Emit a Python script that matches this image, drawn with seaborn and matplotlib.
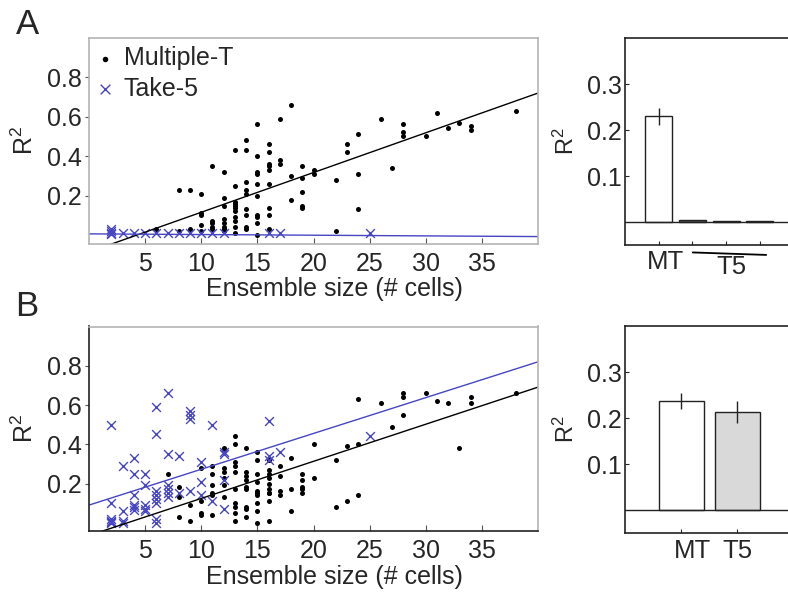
import numpy as np
import pandas as pd
import matplotlib.pyplot as plt
import seaborn as sns

# Panel A scatter values (ensemble size, R^2)
a_mt_x = [6, 8, 8, 9, 9, 10, 10, 10, 10, 10, 11, 11, 11, 11, 11,
          12, 12, 12, 12, 12, 12, 12, 12,
          13, 13, 13, 13, 13, 13, 13, 13, 13, 13, 13,
          14, 14, 14, 14, 14, 14, 14, 14, 14,
          15, 15, 15, 15, 15, 15, 15, 15, 15, 15,
          16, 16, 16, 16, 16, 16, 16, 16, 16,
          17, 17, 17, 18, 18, 18, 19, 19, 19, 19, 19, 20, 20,
          22, 22, 23, 23, 24, 24, 24, 26, 27, 28, 28, 28,
          30, 31, 32, 33, 34, 34, 38]
a_mt_y = [0.03, 0.23, 0.02, 0.23, 0.03, 0.21, 0.11, 0.10, 0.05, 0.02, 0.35, 0.07, 0.06, 0.04, 0.03,
          0.32, 0.19, 0.15, 0.08, 0.06, 0.04, 0.03, 0.02,
          0.43, 0.25, 0.17, 0.16, 0.15, 0.14, 0.12, 0.09, 0.07, 0.04, 0.01,
          0.48, 0.43, 0.27, 0.23, 0.21, 0.13, 0.10, 0.04, 0.03,
          0.56, 0.40, 0.32, 0.31, 0.26, 0.20, 0.10, 0.09, 0.06, 0.00,
          0.46, 0.42, 0.36, 0.35, 0.33, 0.26, 0.14, 0.10, 0.03,
          0.59, 0.38, 0.36, 0.66, 0.30, 0.18, 0.35, 0.29, 0.22, 0.15, 0.14, 0.33, 0.31,
          0.28, 0.02, 0.46, 0.42, 0.51, 0.31, 0.13, 0.59, 0.34, 0.56, 0.52, 0.50,
          0.50, 0.62, 0.54, 0.57, 0.55, 0.53, 0.63]
a_t5_x = [2, 2, 2, 2, 3, 4, 5, 6, 7, 8, 9, 10, 11, 12, 16, 17, 25]
a_t5_y = [0.03, 0.02, 0.01, 0.005, 0.01, 0.01, 0.01, 0.01, 0.01, 0.01, 0.01, 0.01, 0.01, 0.01, 0.01, 0.01, 0.01]

# Panel B scatter values
b_mt_x = [7, 8, 8, 8, 9, 9, 10, 10, 10, 10,
          11, 11, 11, 11, 11, 11,
          12, 12, 12, 12, 12, 12, 12,
          13, 13, 13, 13, 13, 13, 13, 13, 13, 13,
          14, 14, 14, 14, 14, 14, 14, 14, 14,
          15, 15, 15, 15, 15, 15, 15, 15, 15, 15,
          16, 16, 16, 16, 16, 16, 16, 16, 16, 16,
          17, 17, 17, 17, 18, 18, 18, 19, 19, 19, 19, 19, 20, 20,
          22, 22, 23, 23, 24, 24, 24, 26, 27, 28, 28, 28,
          30, 31, 32, 33, 34, 34, 38]
b_mt_y = [0.25, 0.03, 0.13, 0.18, 0.01, 0.09, 0.28, 0.11, 0.05, 0.04,
          0.29, 0.25, 0.19, 0.15, 0.14, 0.04,
          0.38, 0.37, 0.28, 0.26, 0.23, 0.19, 0.13,
          0.44, 0.40, 0.31, 0.29, 0.26, 0.17, 0.10, 0.08, 0.05, 0.01,
          0.38, 0.26, 0.24, 0.22, 0.18, 0.17, 0.08, 0.07, 0.03,
          0.36, 0.32, 0.25, 0.21, 0.16, 0.15, 0.14, 0.10, 0.06, 0.00,
          0.32, 0.27, 0.25, 0.23, 0.20, 0.17, 0.15, 0.15, 0.11, 0.01,
          0.29, 0.24, 0.16, 0.14, 0.33, 0.17, 0.06, 0.25, 0.22, 0.18, 0.17, 0.15, 0.40, 0.23,
          0.32, 0.08, 0.39, 0.11, 0.63, 0.40, 0.14, 0.61, 0.49, 0.66, 0.64, 0.55,
          0.66, 0.62, 0.61, 0.38, 0.64, 0.61, 0.66]
b_t5_x = [2, 2, 2, 2, 2, 2, 3, 3, 3, 3,
          4, 4, 4, 4, 4, 4, 5, 5, 5, 5, 5,
          6, 6, 6, 6, 6, 6, 6, 6, 7, 7, 7, 7, 7, 7,
          8, 8, 9, 9, 9, 9, 10, 10, 10, 11, 11,
          12, 12, 12, 12, 16, 16, 16, 17, 25]
b_t5_y = [0.50, 0.10, 0.02, 0.01, 0.005, 0.00, 0.29, 0.06, 0.01, 0.00,
          0.33, 0.25, 0.14, 0.09, 0.08, 0.065, 0.25, 0.19, 0.09, 0.07, 0.06,
          0.59, 0.45, 0.16, 0.14, 0.12, 0.10, 0.02, 0.00, 0.66, 0.35, 0.19, 0.17, 0.15, 0.13,
          0.34, 0.15, 0.57, 0.55, 0.53, 0.16, 0.31, 0.21, 0.14, 0.50, 0.11,
          0.36, 0.35, 0.22, 0.07, 0.52, 0.34, 0.32, 0.36, 0.44]

# Regression lines (intercept, slope)
a_mt_fit = (-0.085, 0.0201)
a_t5_fit = (0.0067, -0.00034)
b_mt_fit = (-0.065, 0.0189)
b_t5_fit = (0.090, 0.01825)

# Bar panels: mean R^2 and error
a_groups = ["MT", "T5 a", "T5 b", "T5 c"]
a_r2 = [0.230, 0.004, 0.002, 0.002]
a_err = [0.019, 0.0, 0.0, 0.0]
b_groups = ["MT", "T5"]
b_r2 = [0.237, 0.213]
b_err = [0.018, 0.024]

sns.set_style("ticks")
plt.rcParams["font.family"] = ["Liberation Sans", "DejaVu Sans"]
plt.rcParams["mathtext.fontset"] = "custom"
plt.rcParams["mathtext.rm"] = "Liberation Sans"
plt.rcParams["mathtext.it"] = "Liberation Sans"

blue = "#4646c4"
fig = plt.figure(figsize=(7.88, 5.93), dpi=100)

W, H = 788.0, 593.0


def box(l, t, r, b):
    return [l / W, 1 - b / H, (r - l) / W, (b - t) / H]


def scatter_panel(ax, mt_x, mt_y, t5_x, t5_y, mt_fit, t5_fit, legend, dark_lb):
    sns.scatterplot(x=mt_x, y=mt_y, ax=ax, color="black", marker="o", s=13,
                    linewidth=0, label="Multiple-T")
    sns.scatterplot(x=t5_x, y=t5_y, ax=ax, color=blue, marker="x", s=40,
                    linewidth=1.0, label="Take-5")
    xs = np.array([0, 40])
    ax.plot(xs, mt_fit[0] + mt_fit[1] * xs, color="black", lw=1)
    ax.plot(xs, t5_fit[0] + t5_fit[1] * xs, color=blue, lw=1)
    ax.set_xlim(0, 40)
    ax.set_ylim(-0.042, 1.0)
    ax.set_xticks([5, 10, 15, 20, 25, 30, 35])
    ax.set_yticks([0.2, 0.4, 0.6, 0.8])
    ax.set_yticklabels(["0.2", "0.4", "0.6", "0.8"])
    ax.tick_params(axis="x", direction="in", length=4, pad=6, labelsize=18, color="#555555")
    ax.tick_params(axis="y", direction="out", length=3, pad=2, labelsize=18, color="#555555")
    ax.set_xlabel("Ensemble size (# cells)", fontsize=18)
    ax.xaxis.set_label_coords(0.546, -0.165)
    ax.set_ylabel("R$^{2}$", fontsize=18)
    ax.yaxis.set_label_coords(-0.113, 0.5)
    for s in ax.spines.values():
        s.set_color("#b4b4b4")
        s.set_linewidth(1.2)
    if dark_lb:
        ax.spines["left"].set_color("#222222")
        ax.spines["bottom"].set_color("#222222")
    if legend:
        ax.legend(loc="upper left", frameon=False, fontsize=18, handlelength=0.6,
                  handletextpad=0.45, labelspacing=0.25, borderaxespad=0.25,
                  borderpad=0.1, markerscale=1.1)
    else:
        ax.get_legend().remove()


def bar_panel(ax, groups, r2, err, colors, nticks):
    df = pd.DataFrame({"group": groups, "r2": r2})
    sns.barplot(data=df, x="group", y="r2", hue="group", palette=colors,
                edgecolor="#222222", linewidth=1, width=0.8, legend=False, ax=ax)
    ax.errorbar(range(len(groups)), r2, yerr=err, fmt="none", ecolor="#222222",
                elinewidth=1, capsize=0)
    ax.axhline(0, color="#222222", lw=1)
    ax.set_xlim(-1, nticks)
    ax.set_ylim(-0.05, 0.4)
    ax.set_yticks([0.1, 0.2, 0.3])
    ax.set_yticklabels(["0.1", "0.2", "0.3"])
    ax.set_xticks(range(len(groups)))
    ax.set_xticklabels([""] * len(groups))
    ax.set_xlabel("")
    ax.set_ylabel("R$^{2}$", fontsize=17)
    ax.yaxis.set_label_coords(-0.275, 0.5)
    ax.tick_params(axis="both", direction="in", length=3, pad=2, labelsize=18)
    for s in ax.spines.values():
        s.set_color("#222222")
        s.set_linewidth(1.2)


# Panel A
ax1 = fig.add_axes(box(89, 37.5, 538, 243.5))
scatter_panel(ax1, a_mt_x, a_mt_y, a_t5_x, a_t5_y, a_mt_fit, a_t5_fit, True, False)
ax2 = fig.add_axes(box(625, 38.3, 793.5, 245))
bar_panel(ax2, a_groups, a_r2, a_err, ["white", "#555555", "#555555", "#555555"], 4)
tr = ax2.get_xaxis_transform()
ax2.text(0.19, -0.08, "MT", transform=tr, ha="center", va="center", fontsize=18.5)
ax2.text(2.15, -0.108, "T5", transform=tr, ha="center", va="center", fontsize=18.5)
ax2.plot([1.01, 3.19], [-0.036, -0.048], transform=tr, color="black", lw=1.3, clip_on=False)

# Panel B
ax3 = fig.add_axes(box(89, 326.5, 538, 531))
scatter_panel(ax3, b_mt_x, b_mt_y, b_t5_x, b_t5_y, b_mt_fit, b_t5_fit, False, True)
ax4 = fig.add_axes(box(625, 326, 793.5, 533.3))
bar_panel(ax4, b_groups, b_r2, b_err, ["white", "#d9d9d9"], 2)
tr = ax4.get_xaxis_transform()
ax4.text(0.2, -0.085, "MT", transform=tr, ha="center", va="center", fontsize=18.5)
ax4.text(1.0, -0.085, "T5", transform=tr, ha="center", va="center", fontsize=18.5)

fig.text(27 / W, 1 - 25 / H, "A", fontsize=25, ha="center", va="center")
fig.text(27 / W, 1 - 307 / H, "B", fontsize=25, ha="center", va="center")

fig.savefig("out.png", dpi=100)
